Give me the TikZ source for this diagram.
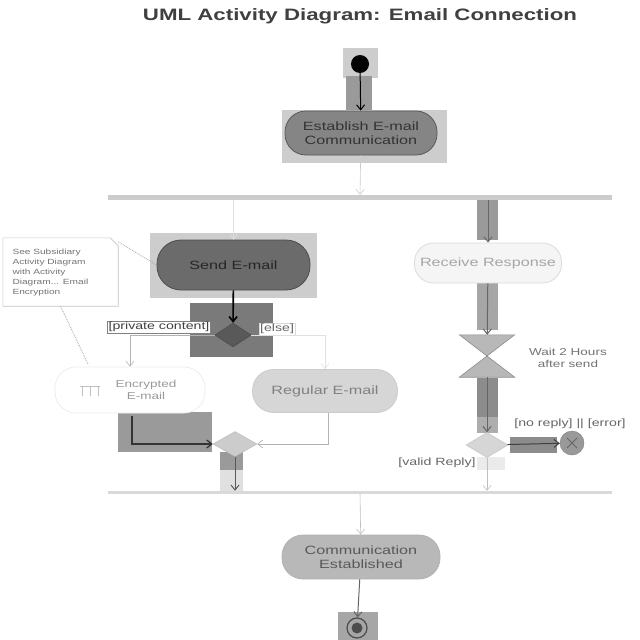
\documentclass[tikz,border=0pt]{standalone}
\usepackage{fontspec}
\setmainfont{Liberation Sans}[FakeStretch=1.35]
\usetikzlibrary{arrows.meta,shapes.geometric,calc}
\definecolor{hlA}{HTML}{CDCDCD}
\definecolor{hlB}{HTML}{9A9A9A}
\definecolor{hlC}{HTML}{7A7A7A}
\begin{document}
\begin{tikzpicture}[x=1pt,y=-1pt,
  act/.style={rectangle, rounded corners=21pt, minimum height=44pt, align=center, font=\fontsize{12}{13.5}\selectfont, line width=0.8pt},
  dec/.style={diamond, inner sep=0pt, line width=0.6pt},
  bar/.style={rectangle, inner sep=0pt, minimum width=504pt},
  lbl/.style={font=\fontsize{10.5}{12}\selectfont, text=black!60, inner sep=1pt},
  flow/.style={-{Straight Barb[length=5pt,width=8pt]}, line width=1pt}
]
\useasboundingbox (0,0) rectangle (640,640);
\fill[white] (0,0) rectangle (640,640);

% title
\node[font=\bfseries\fontsize{16.5}{20}\selectfont, text=black!75] (title) at (360,16) {UML Activity Diagram: Email Connection};

% highlight rectangles
\fill[hlA] (343,48) rectangle (378,78);
\fill[hlB] (346,76) rectangle (372,112);
\fill[hlA] (282,110) rectangle (447,163);
\fill[hlB] (477,199) rectangle (498,240);
\fill[hlA] (150,233) rectangle (317,298);
\fill[hlC] (190,303) rectangle (273,357);
\fill[hlB] (118,412) rectangle (212,452);
\fill[hlB] (220,452) rectangle (243,470);
\fill[black!12] (220,470) rectangle (243,492);
\fill[black!35] (477,283) rectangle (498,330);
\fill[black!45] (477,378) rectangle (498,417);
\fill[black!32] (477,417) rectangle (498,433);
\fill[black!8] (477,457) rectangle (505,470);
\fill[black!45] (510,437) rectangle (557,453);
\fill[black!35] (338,612) rectangle (378,640);

% nodes
\node[circle, fill=black, minimum size=18pt, inner sep=0pt] (start) at (360,64) {};
\node[act, fill=black!48, draw=black!65, minimum width=152pt, text=black!80] (est) at (361,133) {Establish E-mail\\Communication};
\node[bar, fill=black!20, minimum height=5pt] (fork) at (360,197.5) {};
\node[act, fill=black!58, draw=black!70, minimum width=153pt, minimum height=50pt, rounded corners=24pt, text=black!85] (send) at (233.5,265) {Send E-mail};
\node[act, fill=black!4, draw=black!14, minimum width=147pt, minimum height=40pt, rounded corners=19pt, text=black!35] (recv) at (488,263) {Receive Response};
\node[dec, fill=black!65, draw=black!70, minimum width=36pt, minimum height=24pt] (d1) at (233,335) {};
\node[lbl, draw=black!50, fill=white, text=black!75] (lpriv) at (159,327) {[private content]};
\node[lbl, draw=black!15, fill=white] (lelse) at (277,329) {[else]};
\node[act, fill=white, draw=black!7, minimum width=150pt, minimum height=46pt, text=black!40] (enc) at (130,390) {};
\node[font=\fontsize{10}{12}\selectfont, text=black!40, align=center] (enctxt) at (146,390) {Encrypted\\E-mail};
\draw[black!25, line width=0.6pt] (80,386) -- (100,386) (82,386) -- (82,396) (90,386) -- (90,396) (98,386) -- (98,396);
\node[act, fill=black!16, draw=black!20, minimum width=145pt, minimum height=43pt, text=black!50] (reg) at (325,391) {Regular E-mail};
\node[dec, fill=black!20, draw=black!25, minimum width=44pt, minimum height=25pt] (merge) at (235,444) {};
\node[bar, fill=black!15, minimum height=3pt] (join) at (360,492.5) {};

\node[minimum width=55pt, minimum height=42pt, inner sep=0pt] (wait) at (487,356) {};
\filldraw[fill=black!28, draw=black!45, line width=0.6pt] (wait.north west) -- (wait.north east) -- (wait.center) -- cycle;
\filldraw[fill=black!28, draw=black!45, line width=0.6pt] (wait.south west) -- (wait.south east) -- (wait.center) -- cycle;
\node[font=\fontsize{10}{12}\selectfont, text=black!55, align=center] (waittxt) at (568,358) {Wait 2 Hours\\after send};
\node[dec, fill=black!16, draw=black!22, minimum width=42pt, minimum height=25pt] (d2) at (487,445) {};
\node[circle, fill=black!40, draw=black!50, minimum size=24pt, inner sep=0pt] (ff) at (572,443) {};
\draw[black!60, line width=0.8pt] ($(ff.center)+(-5,-5)$) -- ($(ff.center)+(5,5)$) ($(ff.center)+(5,-5)$) -- ($(ff.center)+(-5,5)$);
\node[lbl] (lno) at (570,424) {[no reply] || [error]};
\node[lbl] (lvalid) at (437,463) {[valid Reply]};
\node[act, fill=black!28, draw=black!30, minimum width=158pt, text=black!65] (comm) at (361,557) {Communication\\Established};
\node[circle, draw=black!70, line width=1.2pt, minimum size=20pt, inner sep=0pt] (final) at (357,628) {};
\fill[black!70] (final.center) circle (5.5pt);

% note
\node[rectangle, minimum width=115pt, minimum height=68pt, inner sep=0pt] (note) at (60.5,272) {};
\filldraw[fill=white, draw=black!22, line width=0.6pt] (note.north west) -- ($(note.north east)+(-8,0)$) -- ($(note.north east)+(0,8)$) -- (note.south east) -- (note.south west) -- cycle;
\node[font=\fontsize{7.5}{10}\selectfont, text=black!55, align=left, anchor=north west] (notetxt) at (9,246) {See Subsidiary\\Activity Diagram\\with Activity\\Diagram... Email\\Encryption};
\draw[black!35, densely dotted, line width=0.8pt] ($(note.north east)+(0,4)$) -- (send.west);
\draw[black!35, densely dotted, line width=0.8pt] (note.south) -- (88,364);

% connectors
\draw[flow, black] (start) -- (est);
\draw[flow, black!20, line width=0.6pt] (est) -- (fork);
\draw[flow, black!12, line width=0.6pt] (fork.south -| send.north) -- (send);
\draw[flow, black!60] (fork.south -| recv.north) -- (recv);
\draw[flow, black, line width=1.6pt] (send) -- (d1);
\draw[flow, black!30, line width=0.6pt] (d1.west) -| (enc.north -| 130,0);
\draw[flow, black!12, line width=0.6pt] (d1.east) -| (reg.north -| 325,0);
\draw[flow, black!80, line width=1.2pt] (132,416) |- (merge.west);
\draw[flow, black!30, line width=0.6pt] (reg.south -| 328,0) |- (merge.east);
\draw[flow, black!65] (merge) -- (merge |- join.north);
\draw[flow, black!60] (recv) -- (wait);
\draw[flow, black!60] (wait) -- (d2);
\draw[flow, black!75] (d2) -- (ff);
\draw[flow, black!25, line width=0.6pt] (d2) -- (d2 |- join.north);
\draw[flow, black!25, line width=0.6pt] (join) -- (comm);
\draw[flow, black!60] (comm) -- (final);
\end{tikzpicture}
\end{document}
